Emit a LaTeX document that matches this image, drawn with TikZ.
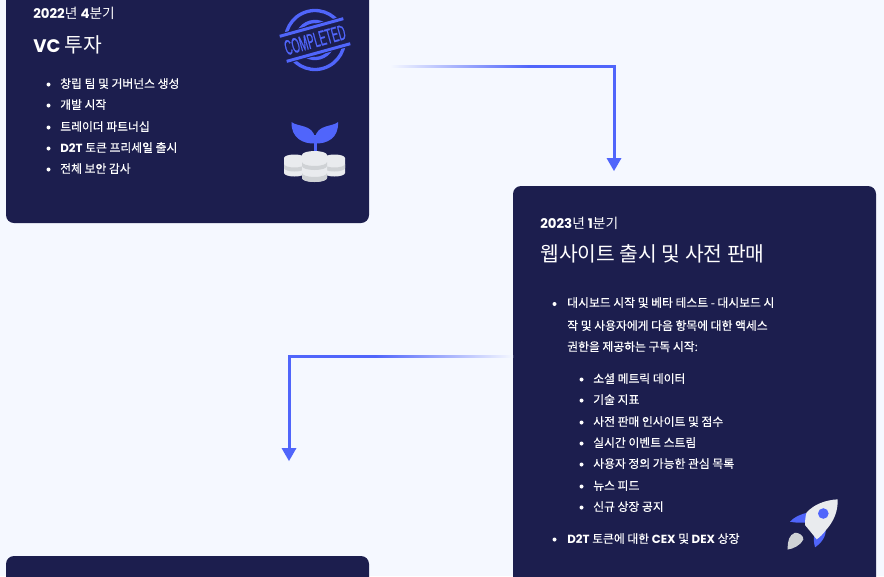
\documentclass[tikz,border=0pt]{standalone}
\usepackage{fontspec}
\usetikzlibrary{arrows.meta}
\setmainfont{Noto Sans CJK KR}
\newfontfamily\krm{Noto Sans CJK KR}[FakeBold=0.4]
\newfontfamily\krh{Noto Sans CJK KR}[Scale=1.03]
\newfontfamily\latb{Poppins}[BoldFont=* Bold]
\newfontfamily\stampf{Liberation Sans}[FakeBold=0.5,FakeStretch=0.47]
\definecolor{pagebg}{HTML}{F5F8FF}
\definecolor{cardc}{HTML}{1C1E4E}
\definecolor{accent}{HTML}{5065FB}
\definecolor{coinl}{HTML}{E9EBEE}
\definecolor{coind}{HTML}{CFD2D5}
\newcommand{\LB}[1]{{\latb\bfseries #1}}
\tikzset{
  x=0.75pt,y=-0.75pt,
  card/.style={fill=cardc,rounded corners=6pt,draw=none},
  htext/.style={anchor=base west,text=white,inner sep=0,font=\fontsize{10}{11}\krh},
  ttext/.style={anchor=base west,text=white,inner sep=0,font=\fontsize{15.27}{16}\selectfont},
  itemtext/.style={anchor=base west,text=white,inner sep=0,font=\fontsize{8.85}{10}\krm},
  dot/.style={circle,fill=white,inner sep=0,minimum size=3pt},
  conn/.style={accent,line width=2.25pt},
  tipc/.style={fill=accent,draw=none},
  stampline/.style={draw=accent,line width=2.5pt,fill=none},
}
\begin{document}
\begin{tikzpicture}
\useasboundingbox (0,0) rectangle (884,576);
\clip (0,0) rectangle (884,576);
\fill[pagebg] (0,0) rectangle (884,576);

% cards
\path[card] (6,-30) rectangle (369,223);
\path[card] (513,186) rectangle (876,620);
\path[card] (6,556) rectangle (369,620);

% card 1 text
\node[htext] (h1) at (33,18) {\LB{2022}년 \LB{4}분기};
\node[ttext] (t1) at (33,52) {{\fontsize{13.6}{14}\selectfont\LB{VC}} 투자};
\foreach \n/\y/\t in {a/88/창립 팀 및 거버넌스 생성,b/109/개발 시작,c/131/트레이더 파트너십,d/152/{\LB{D2T} 토큰 프리세일 출시},e/173/전체 보안 감사}{
  \node[dot] (d1\n) at (48.5,\y-3.5) {};
  \node[itemtext] (i1\n) at (60,\y) {\t};
}

% card 2 text
\node[htext] (h2) at (540,228) {\LB{2023}년 \LB{1}분기};
\node[ttext] (t2) at (540,261) {웹사이트 출시 및 사전 판매};
\node[dot] (d2a) at (554.5,304) {};
\node[itemtext] (i2a) at (567,307) {대시보드 시작 및 베타 테스트 - 대시보드 시};
\node[itemtext] (i2b) at (567,330) {작 및 사용자에게 다음 항목에 대한 액세스};
\node[itemtext] (i2c) at (567,351) {권한을 제공하는 구독 시작:};
\foreach \n/\y/\t in {a/383/소셜 메트릭 데이터,b/404/기술 지표,c/426/사전 판매 인사이트 및 점수,d/447/실시간 이벤트 스트림,e/468/사용자 정의 가능한 관심 목록,f/490/뉴스 피드,g/511/신규 상장 공지}{
  \node[dot] (s\n) at (581.5,\y-3.5) {};
  \node[itemtext] (j\n) at (593,\y) {\t};
}
\node[dot] (d2z) at (554.5,539.5) {};
\node[itemtext] (i2z) at (567,543) {\LB{D2T} 토큰에 대한 \LB{CEX} 및 \LB{DEX} 상장};

% connector 1
\coordinate (c1s) at (390,66.5);
\coordinate (c1m) at (528,66.5);
\coordinate (c1k) at (614,66.5);
\coordinate (c1e) at (614,159);
\shade[left color=pagebg,right color=accent,draw=none] (390,65.4) rectangle (529,67.6);
\draw[conn,line cap=butt] (c1m) -- (c1k) -- (c1e);
\fill[tipc] (606.5,158) -- (621.5,158) -- (614,171) -- cycle;

% connector 2
\coordinate (c2s) at (513,356.5);
\coordinate (c2m) at (376,356.5);
\coordinate (c2k) at (289,356.5);
\coordinate (c2e) at (289,449);
\shade[left color=accent,right color=pagebg,draw=none] (375,355.4) rectangle (513,357.6);
\draw[conn,line cap=butt] (c2m) -- (c2k) -- (c2e);
\fill[tipc] (281.5,448) -- (296.5,448) -- (289,461) -- cycle;

% stamp
\begin{scope}[shift={(315,40)},rotate=15.5]
  \draw[stampline] (0,0) circle[radius=29.5];
  \draw[stampline] (0,0) circle[radius=18.5];
  \fill[cardc] (-37,-15.5) rectangle (37,15.5);
  \fill[accent] (-33,-14.5) rectangle (33,-11.5);
  \fill[accent] (-33,11.5) rectangle (33,14.5);
  \node[transform shape,text=accent,inner sep=0,font=\stampf\fontsize{16}{17}\selectfont] (stamp) at (0,0) {COMPLETED};
\end{scope}

% plant
\fill[accent] (315,143.5) .. controls (303,144) and (291,138) .. (291.5,122) .. controls (297,127) and (313,124) .. (315,138) -- cycle;
\fill[accent] (315,143.5) .. controls (327,144) and (339,138) .. (338,122) .. controls (333,127) and (317,124) .. (315,138) -- cycle;
\fill[accent] (313.5,135) rectangle (316.5,158);
\foreach \cx/\ty/\w/\h in {294.5/158/10.5/15,334.5/158/10.5/15}{
  \fill[coinl] (\cx-\w,\ty) -- (\cx+\w,\ty) -- (\cx+\w,\ty+\h) arc[start angle=0,end angle=180,x radius=\w,y radius=3.5] -- cycle;
  \fill[coinl] (\cx,\ty) ellipse[x radius=\w,y radius=3.5];
  \fill[coind] (\cx-\w,\ty+6) arc[start angle=180,end angle=0,x radius=\w,y radius=3.5] -- (\cx+\w,\ty+10) arc[start angle=0,end angle=180,x radius=\w,y radius=3.5] -- cycle;
}
\foreach \cx/\ty/\w/\h in {314.5/155/12.5/23}{
  \fill[coinl] (\cx-\w,\ty) -- (\cx+\w,\ty) -- (\cx+\w,\ty+\h) arc[start angle=0,end angle=180,x radius=\w,y radius=4] -- cycle;
  \fill[coinl] (\cx,\ty) ellipse[x radius=\w,y radius=4];
  \fill[coind] (\cx-\w,\ty+7) arc[start angle=180,end angle=0,x radius=\w,y radius=4] -- (\cx+\w,\ty+11) arc[start angle=0,end angle=180,x radius=\w,y radius=4] -- cycle;
  \fill[coind] (\cx-\w,\ty+18) arc[start angle=180,end angle=0,x radius=\w,y radius=4] -- (\cx+\w,\ty+\h) arc[start angle=0,end angle=180,x radius=\w,y radius=4] -- cycle;
}

% rocket
\fill[accent] (808,512.5) .. controls (801,514) and (794,517) .. (790,521.7) .. controls (796,523) and (803,523) .. (810,522) -- cycle;
\fill[accent] (825.5,528) .. controls (827,537) and (820,544) .. (815,547.3) .. controls (813,541) and (814,535) .. (815,528) -- cycle;
\fill[coinl] (837.7,499.3) .. controls (826,500) and (814,504) .. (806.5,512.7) .. controls (805.5,516) and (805,520) .. (805,525) -- (816.7,539.3) .. controls (820,537) and (823,534) .. (826,530) .. controls (834,521) and (838,511) .. (837.7,499.3) -- cycle;
\fill[accent] (823.3,513.5) circle[radius=5.3];
\fill[coind] (787.7,549.5) .. controls (787.5,541) and (789,535) .. (795,532.7) .. controls (799,532.5) and (804,536) .. (803.3,539.5) .. controls (801,545) and (793,549) .. (787.7,549.5) -- cycle;
\end{tikzpicture}
\end{document}
